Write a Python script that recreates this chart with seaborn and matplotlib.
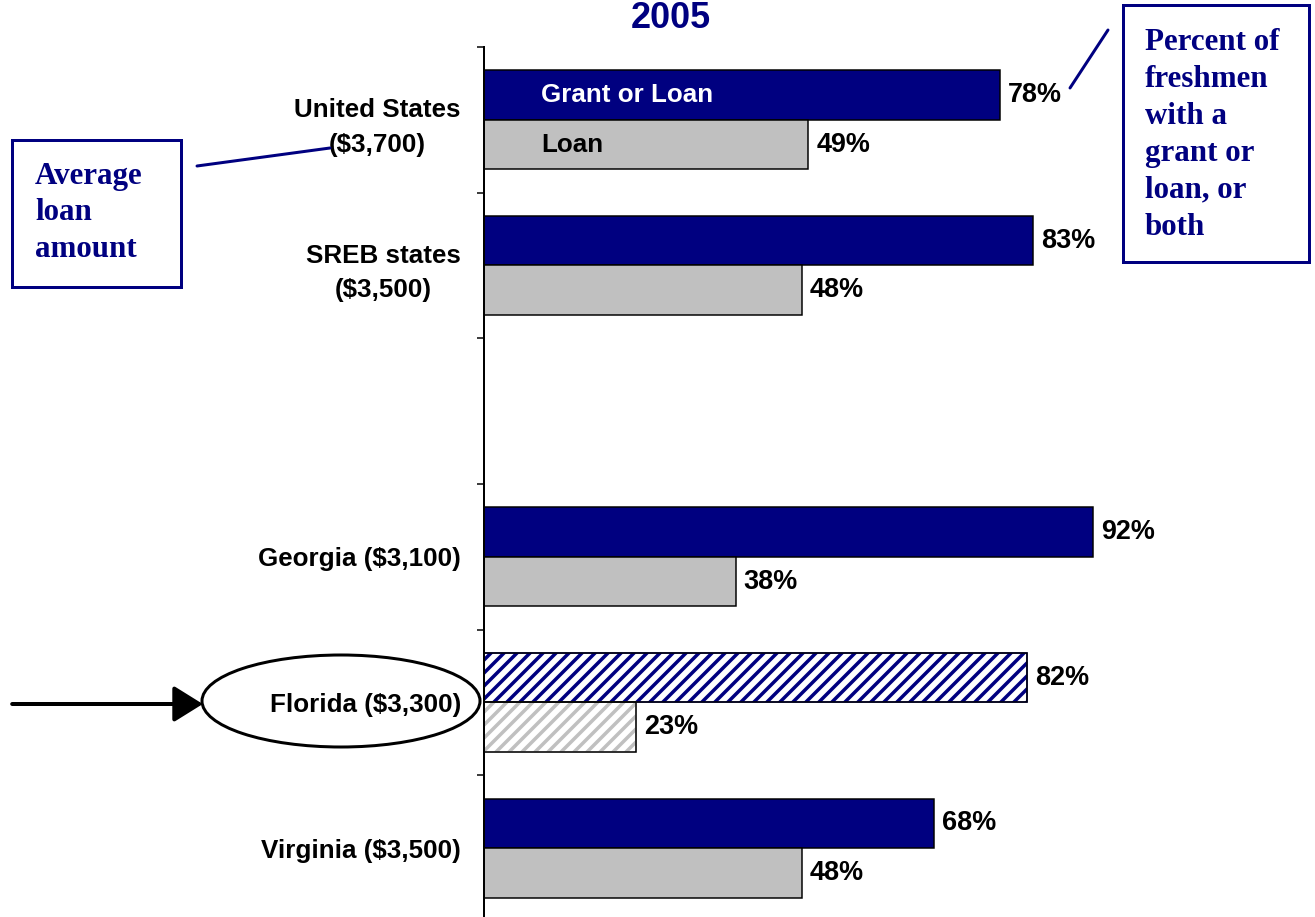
import seaborn as sns
import matplotlib.pyplot as plt
import pandas as pd
from matplotlib.patches import Rectangle, Ellipse

# data
places = ['United States\n($3,700)', 'SREB states\n($3,500)', ' ',
          'Georgia ($3,100)', 'Florida ($3,300)', 'Virginia ($3,500)']
grantOrLoan = [78, 83, None, 92, 82, 68]
loanOnly = [49, 48, None, 38, 23, 48]
kinds = ['Grant or Loan', 'Loan']
kindColors = {'Grant or Loan': '#000080', 'Loan': '#C0C0C0'}
highlight = 'Florida ($3,300)'

rows = []
for p, g, l in zip(places, grantOrLoan, loanOnly):
    if g is None:
        continue
    rows.append((p, kinds[0], g))
    rows.append((p, kinds[1], l))
df = pd.DataFrame(rows, columns=['place', 'kind', 'pct'])

W, H, DPI = 1315, 917, 78
def pt(px):                      # pixel size -> points
    return px * 72.0 / DPI
def fx(x):
    return x / W
def fy(y):
    return 1 - y / H

navy = '#000080'
sns.set_style('white')
plt.rcParams['hatch.linewidth'] = pt(3.5)
plt.rcParams['text.color'] = 'black'
sansBold = dict(family=['Liberation Sans', 'DejaVu Sans'], fontweight='bold')

fig = plt.figure(figsize=(W / DPI, H / DPI), dpi=DPI)
ax = fig.add_axes([fx(484), fy(921), fx(W - 484), (921 - 47) / H])

sns.barplot(data=df, y='place', x='pct', hue='kind', order=places, hue_order=kinds,
            palette=kindColors, saturation=1, orient='h', width=0.68, gap=0,
            edgecolor='black', linewidth=pt(1.5), legend=False, ax=ax)
ax.set_xlim(0, (W - 484) / 6.62)
ax.set_ylim(5.5, -0.5)

sns.despine(ax=ax, top=True, right=True, bottom=True, left=False)
ax.spines['left'].set_linewidth(pt(2))
ax.spines['left'].set_color('black')
ax.set_xticks([])
ax.set_xlabel('')
ax.set_ylabel('')
ax.set_yticks(range(len(places)))
ax.set_yticklabels(places)
ax.set_yticks([i - 0.5 for i in range(len(places) + 1)], minor=True)
ax.tick_params(axis='y', which='major', length=0, pad=pt(23), labelcolor='black')
ax.tick_params(axis='y', which='minor', length=pt(7), width=pt(1.5), color='black', left=True)
for lab in ax.get_yticklabels():
    lab.set_multialignment('center')
    lab.set_linespacing(1.55)
    lab.set_fontfamily(sansBold['family'])
    lab.set_fontweight('bold')
    lab.set_fontsize(pt(26))

# value labels and the hatched Florida bars
hi = places.index(highlight)
for cont in ax.containers:
    ax.bar_label(cont, fmt='{:.0f}%', padding=pt(8), fontsize=pt(27), color='black', **sansBold)
    for bar in cont:
        if round(bar.get_y() + bar.get_height() / 2) == hi:
            col = bar.get_facecolor()
            bar.set_facecolor('white')
            bar.set_edgecolor(col)
            bar.set_hatch('//')
            ax.add_patch(Rectangle((bar.get_x(), bar.get_y()), bar.get_width(), bar.get_height(),
                                   fill=False, edgecolor='black', lw=pt(1.5)))

# series names written inside the United States bars
for cont, name, tc in zip(ax.containers, kinds, ['white', 'black']):
    b = cont[0]
    ax.text(8.6, b.get_y() + b.get_height() / 2, name, color=tc, va='center', ha='left',
            fontsize=pt(26), **sansBold)

fig.text(fx(671), fy(28), '2005', ha='center', va='baseline', color=navy,
         fontsize=pt(36), **sansBold)

# call-out boxes
fig.add_artist(Rectangle((fx(12), fy(287)), fx(181 - 12), (287 - 140) / H,
                         transform=fig.transFigure, fill=False, edgecolor=navy, lw=pt(3)))
fig.text(fx(35), fy(213), 'Average\nloan\namount', ha='left', va='center', color=navy,
         fontsize=pt(31), fontweight='bold', family='Liberation Serif', linespacing=1.36)
fig.add_artist(plt.Line2D([fx(197), fx(330)], [fy(166), fy(148)], transform=fig.transFigure,
                          color=navy, lw=pt(3)))

fig.add_artist(Rectangle((fx(1123), fy(262)), fx(1309 - 1123), (262 - 5) / H,
                         transform=fig.transFigure, fill=False, edgecolor=navy, lw=pt(3)))
fig.text(fx(1145), fy(135), 'Percent of\nfreshmen\nwith a\ngrant or\nloan, or\nboth',
         ha='left', va='center', color=navy, fontsize=pt(31), fontweight='bold',
         family='Liberation Serif', linespacing=1.36)
fig.add_artist(plt.Line2D([fx(1070), fx(1108)], [fy(88), fy(30)], transform=fig.transFigure,
                          color=navy, lw=pt(3)))

# Florida highlight
fig.add_artist(Ellipse((fx(341), fy(701)), fx(278), 92 / H, transform=fig.transFigure,
                       fill=False, edgecolor='black', lw=pt(3)))
ax.annotate('', xy=(fx(205), fy(704)), xycoords='figure fraction',
            xytext=(fx(10), fy(704)), textcoords='figure fraction',
            arrowprops=dict(arrowstyle='-|>,head_length=0.45,head_width=0.28',
                            color='black', lw=pt(4), mutation_scale=pt(55)),
            annotation_clip=False)

fig.savefig('out.png', dpi=DPI)
